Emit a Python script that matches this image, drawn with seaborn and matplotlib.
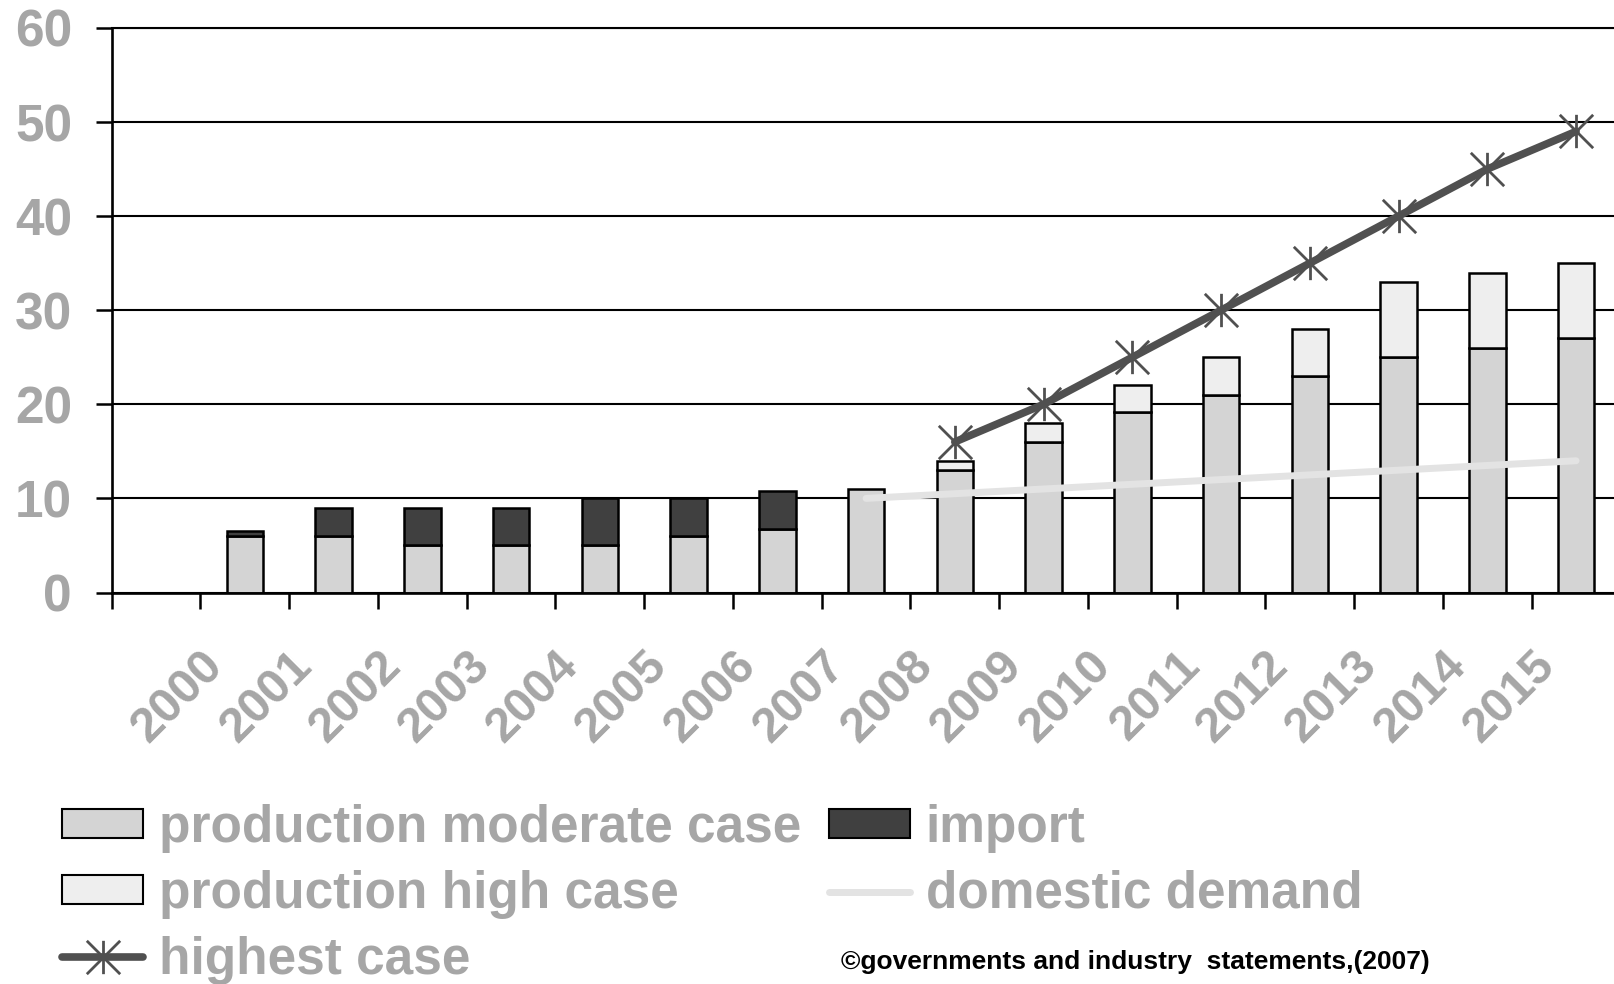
import matplotlib
matplotlib.use("Agg")
import matplotlib.pyplot as plt
from matplotlib.path import Path
from matplotlib.patches import Patch
from matplotlib.lines import Line2D
import pandas as pd
import seaborn as sns

# ---- data -------------------------------------------------------------
years = list(range(2000, 2016))
production_moderate = [6, 6, 5, 5, 5, 6, 6.8, 11, 13, 16, 19.2, 21, 23, 25, 26, 27]
imports = [0.5, 3, 4, 4, 5, 4, 4, 0, 0, 0, 0, 0, 0, 0, 0, 0]
production_high = [0, 0, 0, 0, 0, 0, 0, 0, 1, 2, 2.8, 4, 5, 8, 8, 8]

highest_years = [2008, 2009, 2010, 2011, 2012, 2013, 2014, 2015]
highest_case = [16, 20, 25, 30, 35, 40, 45, 49]

demand_years = [2007, 2008, 2009, 2010, 2011, 2012, 2013, 2014, 2015]
domestic_demand = [10, 10.5, 11, 11.5, 12, 12.5, 13, 13.5, 14]

y_ticks = [0, 10, 20, 30, 40, 50, 60]

# ---- style ------------------------------------------------------------
sns.set_theme(style="white")
plt.rcParams["font.family"] = ["Liberation Sans", "DejaVu Sans"]

C_MOD = "#d4d4d4"
C_HIGH = "#eeeeee"
C_IMP = "#404040"
C_HIGHEST = "#505050"
C_DEMAND = "#e3e3e3"
C_TEXT = "#a6a6a6"

# asterisk marker: an X crossed by a vertical stroke
asterisk = Path(
    [(-1, -1), (1, 1), (-1, 1), (1, -1), (0, -1), (0, 1)],
    [Path.MOVETO, Path.LINETO, Path.MOVETO, Path.LINETO, Path.MOVETO, Path.LINETO],
)

# the first slot on the axis stays empty; year 2000 sits in slot 1
slot = {y: i + 1 for i, y in enumerate(years)}

df = pd.DataFrame({
    "pos": [slot[y] for y in years],
    "moderate": production_moderate,
    "import": imports,
    "high": production_high,
})
df["base_high"] = df["moderate"] + df["import"]

fig = plt.figure(figsize=(16.14, 9.84), dpi=100)
ax = fig.add_axes([111.7 / 1614, 391.5 / 984, 17 * 88.75 / 1614, 564.6 / 984])

bar_kw = dict(native_scale=True, width=0.41, edgecolor="black", linewidth=1.8,
              errorbar=None, ax=ax, zorder=2)

sns.barplot(data=df, x="pos", y="moderate", color=C_MOD, **bar_kw)

imp = df[df["import"] > 0]
sns.barplot(data=imp, x="pos", y="import", color=C_IMP,
            bottom=imp["moderate"].to_numpy(), **bar_kw)

high = df[df["high"] > 0]
sns.barplot(data=high, x="pos", y="high", color=C_HIGH,
            bottom=high["base_high"].to_numpy(), **bar_kw)

sns.lineplot(x=[slot[y] for y in demand_years], y=domestic_demand, ax=ax,
             color=C_DEMAND, lw=5, solid_capstyle="round", errorbar=None, zorder=3)

sns.lineplot(x=[slot[y] for y in highest_years], y=highest_case, ax=ax,
             color=C_HIGHEST, lw=5.5, marker=asterisk, ms=24, mew=2,
             mec=C_HIGHEST, mfc="none", solid_capstyle="round",
             errorbar=None, zorder=4)

# ---- axes -------------------------------------------------------------
ax.set_xlim(-0.5, 16.5)
ax.set_ylim(0, 60)
ax.set_xlabel("")
ax.set_ylabel("")

tick_pos = [i - 0.5 for i in range(len(years) + 2)]
tick_lab = [""] + [str(y) for y in years] + [""]
ax.set_xticks(tick_pos, tick_lab, rotation=45, ha="right",
              rotation_mode="anchor", fontweight="bold")
ax.set_yticks(y_ticks, [str(v) for v in y_ticks], fontweight="bold")

ax.tick_params(axis="x", bottom=True, direction="out", length=11.2, width=1.8,
               color="black", pad=25, labelsize=35, labelcolor=C_TEXT)
ax.tick_params(axis="y", left=True, direction="out", length=11.5, width=1.8,
               color="black", pad=17, labelsize=37, labelcolor=C_TEXT)

ax.yaxis.grid(True, color="black", lw=1.5)
ax.xaxis.grid(False)
ax.set_axisbelow(True)

for side in ("left", "bottom"):
    ax.spines[side].set_visible(True)
    ax.spines[side].set_color("black")
    ax.spines[side].set_linewidth(1.9)
ax.spines["top"].set_visible(True)
ax.spines["top"].set_color("black")
ax.spines["top"].set_linewidth(1.5)
ax.spines["right"].set_visible(False)

# ---- legend -----------------------------------------------------------
handles = [
    Patch(facecolor=C_MOD, edgecolor="black", linewidth=1.5,
          label="production moderate case"),
    Patch(facecolor=C_HIGH, edgecolor="black", linewidth=1.5,
          label="production high case"),
    Line2D([], [], color=C_HIGHEST, lw=5.5, marker=asterisk, ms=24, mew=2,
           mec=C_HIGHEST, mfc="none", solid_capstyle="round", label="highest case"),
    Patch(facecolor=C_IMP, edgecolor="black", linewidth=1.5, label="import"),
    Line2D([], [], color=C_DEMAND, lw=5, solid_capstyle="round",
           label="domestic demand"),
]
fig.legend(handles=handles, ncol=2, loc="upper left",
           bbox_to_anchor=(62 / 1614, 1 - 804 / 984), frameon=False,
           prop={"family": "Liberation Sans", "weight": "bold", "size": 37},
           labelcolor=C_TEXT, handlelength=1.58, handleheight=0.5,
           handletextpad=0.3, columnspacing=0.55, labelspacing=0.33,
           borderpad=0, borderaxespad=0, numpoints=1)

fig.text(841 / 1614, 1 - 962 / 984, "\u00a9governments and industry  statements,(2007)",
         fontsize=19, fontweight="bold", family="Liberation Sans", color="black",
         ha="left", va="center")

fig.savefig("out.png", dpi=100)
